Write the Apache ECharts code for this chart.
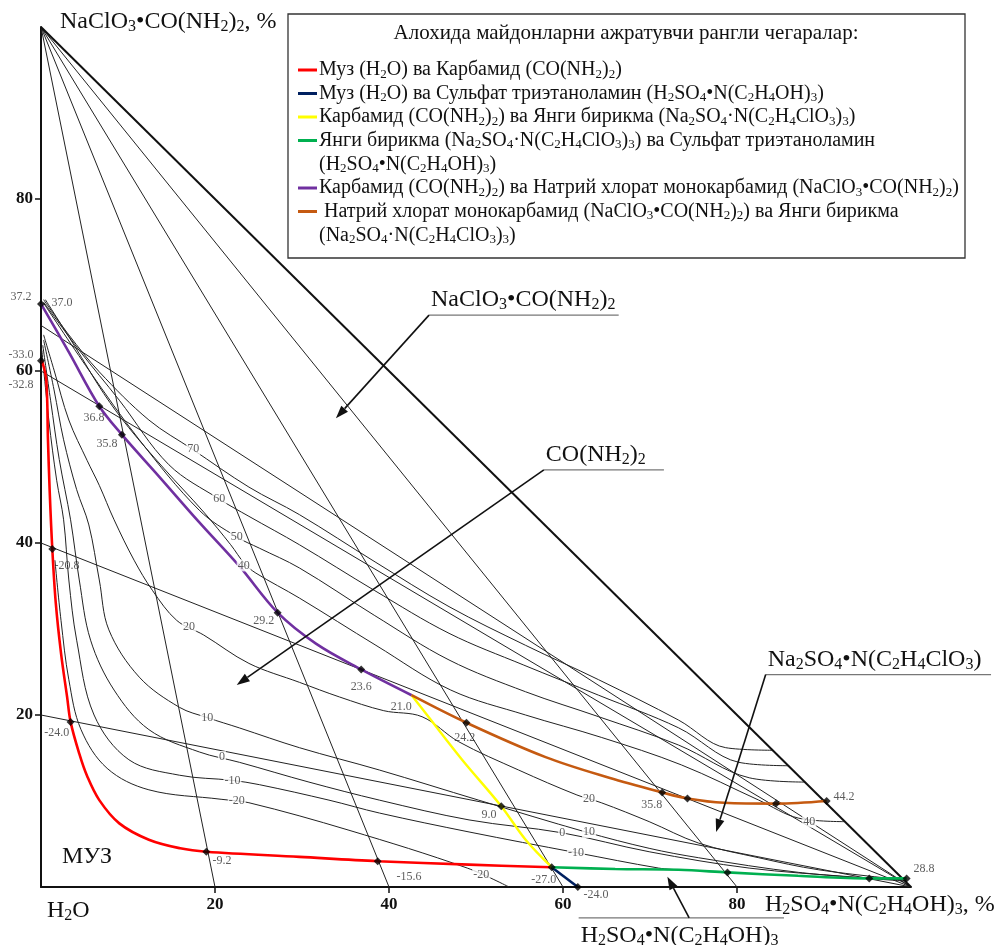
<!DOCTYPE html>
<html><head><meta charset="utf-8">
<script src="https://cdn.jsdelivr.net/npm/echarts@6/dist/echarts.min.js"></script>
<style>html,body{margin:0;padding:0;background:#fff}#c{width:998px;height:945px}</style>
</head><body><div id="c"></div>
<script>
// ---------------- DATA ----------------
const xTicks = [20, 40, 60, 80];
const yTicks = [20, 40, 60, 80];
const hypotenuse = [[0, 100], [100, 0]];
const topFanEnds = [20, 40, 60, 80];          // rays from NaClO3·CO(NH2)2 vertex to the x axis
const rightFanStarts = [20, 40, 60, 65.3];    // rays from the H2SO4·N(C2H4OH)3 vertex to the y axis

const redBoundary = [[0.1,61.2],[0.6,59.0],[0.8,52.0],[1.0,46.0],[1.3,39.3],[1.7,33.0],[2.3,27.2],[3.0,22.1],[3.4,19.2],[4.4,15.5],[5.3,12.9],[6.7,10.1],[9.0,7.4],[12.4,5.5],[16.0,4.5],[19.0,4.1],[29.7,3.5],[38.7,3.0],[49.2,2.6],[58.7,2.3]];
const navyBoundary = [[58.7,2.3],[61.7,0]];
const yellowBoundary = [[42.6,22.3],[44.6,19.7],[48.4,14.8],[52.9,9.4],[55.7,5.5],[58.7,2.3]];
const greenBoundary = [[58.7,2.3],[66.0,2.1],[73.3,2.0],[78.9,1.7],[87.0,1.3],[95.2,1.0],[99.5,1.0]];
const purpleBoundary = [[0,67.8],[3.2,62.2],[6.7,55.9],[9.3,52.6],[13.6,47.7],[18.2,42.4],[22.8,37.3],[27.2,31.9],[31.6,28.3],[36.8,25.3],[42.6,22.3]];
const orangeBoundary = [[42.6,22.3],[48.9,19.1],[58.0,15.1],[65.3,12.7],[71.4,11.0],[74.3,10.3],[78.5,9.8],[84.5,9.7],[90.3,10.0]];

const iso70 = [[0.3,68.3],[3.2,64.2],[6.7,59.9],[12.4,54.3],[17.4,50.9],[23.9,46.5],[29.7,43.3],[38.4,37.8],[46.9,32.6],[55.7,28.1],[64.1,24.1],[73.3,19.4],[78.7,16.2],[84.1,15.9]];
const iso60 = [[0.3,68.0],[4.4,62.4],[9.0,56.6],[14.7,49.1],[20.5,45.1],[23.9,43.1],[29.7,39.8],[38.3,34.5],[46.9,29.5],[55.5,25.8],[64.1,22.3],[73.3,18.5],[80.2,14.5],[85.9,14.1]];
const iso50 = [[0.3,67.9],[5.5,60.1],[11.3,52.0],[18.2,43.8],[22.5,40.7],[25.1,39.4],[29.7,37.1],[38.3,31.6],[46.9,26.4],[55.7,22.7],[64.1,19.8],[73.3,16.5],[81.4,12.7],[87.8,12.2]];
const iso40 = [[0.5,68.3],[3.8,63.0],[7.2,57.4],[10.1,53.4],[14.1,48.7],[18.7,43.6],[21.8,39.8],[23.4,37.6],[24.7,36.5],[29.7,33.6],[38.5,28.1],[47.1,22.9],[55.7,20.0],[64.4,17.4],[73.6,14.2],[82.5,10.1],[87.1,8.0],[92.3,7.6]];
const iso20 = [[0.3,64.2],[1.5,60.1],[3.2,54.3],[5.3,49.6],[6.7,46.7],[8.4,42.7],[10.7,38.0],[12.8,34.5],[15.6,31.0],[18.7,29.3],[23.9,26.0],[29.7,23.8],[34.3,22.1],[39.4,20.5],[43.8,19.8],[48.0,16.9],[54.9,13.6],[61.6,10.7],[64.4,9.8],[69.9,7.6],[75.6,5.1],[82.5,3.4],[89.4,2.0],[99.5,0.8]];
const iso10 = [[0.3,63.6],[1.5,57.8],[2.6,52.0],[4.1,46.2],[5.5,42.1],[6.7,35.7],[7.8,29.9],[11.3,24.4],[15.9,20.9],[19.1,19.7],[22.8,18.5],[29.7,16.2],[38.9,13.6],[50.3,10.1],[62.6,6.4],[69.9,4.5],[75.6,3.4],[87.1,1.7],[99.2,0.7]];
const iso0 = [[0.2,63.0],[1.1,56.6],[2.1,49.7],[3.4,42.7],[4.4,35.7],[5.7,28.7],[8.4,22.9],[12.4,18.3],[18.2,15.7],[22.8,14.5],[30.8,12.2],[38.9,10.1],[49.2,7.8],[59.9,6.3],[69.9,4.1],[81.4,2.2],[92.9,1.2],[99.3,0.8]];
const isoM10 = [[0.1,62.4],[0.9,54.3],[1.8,47.3],[2.6,42.7],[3.2,35.7],[4.1,28.7],[6.1,20.0],[10.1,14.8],[15.9,13.0],[22.0,12.4],[25.1,11.9],[33.1,10.1],[38.9,8.6],[49.2,6.4],[61.5,4.0],[71.0,2.2],[73.3,2.0]];
const isoM20 = [[1.6,38.0],[2.3,31.0],[3.2,24.1],[4.6,18.3],[7.6,13.8],[12.4,11.3],[20.7,10.2],[23.9,9.8],[35.4,6.6],[49.0,2.2],[53.8,0]];

const nodes = [[0,67.8],[0,61.2],[1.3,39.3],[3.4,19.2],[19.0,4.1],[38.7,3.0],[58.7,2.3],[61.7,0],[6.7,55.9],[9.3,52.6],[27.2,31.9],[36.8,25.3],[48.9,19.1],[52.9,9.4],[71.4,11.0],[74.3,10.3],[84.5,9.7],[90.3,10.0],[78.9,1.7],[95.2,1.0],[99.5,1.0]];
const nodeLabels = [[-2.3,68.6,'37.2'],[2.4,67.9,'37.0'],[-2.3,61.9,'-33.0'],[-2.3,58.4,'-32.8'],[6.1,54.5,'36.8'],[7.6,51.5,'35.8'],[3.0,37.4,'-20.8'],[1.8,17.9,'-24.0'],[25.6,31.0,'29.2'],[36.8,23.3,'23.6'],[41.4,20.9,'21.0'],[48.7,17.4,'24.2'],[51.5,8.4,'9.0'],[20.8,3.0,'-9.2'],[42.3,1.2,'-15.6'],[57.8,0.8,'-27.0'],[63.8,-0.9,'-24.0'],[70.2,9.5,'35.8'],[92.3,10.5,'44.2'],[101.5,2.1,'28.8']];
const isoLabels = [[17.5,50.9,'70'],[20.5,45.1,'60'],[22.5,40.7,'50'],[23.3,37.4,'40'],[88.3,7.6,'40'],[17.0,30.2,'20'],[19.1,19.7,'10'],[20.8,15.1,'0'],[22.0,12.4,'-10'],[22.5,10.0,'-20'],[63.0,10.3,'20'],[63.0,6.4,'10'],[59.9,6.3,'0'],[61.5,4.0,'-10'],[50.6,1.4,'-20']];

const annotations = [
  {text:'NaClO3•CO(NH2)2', line:[[44.6,66.5],[66.4,66.5]], arrow:[[44.6,66.5],[33.9,54.5]], side:'above'},
  {text:'CO(NH2)2', line:[[57.8,48.5],[71.6,48.5]], arrow:[[57.8,48.5],[22.5,23.5]], side:'above'},
  {text:'Na2SO4•N(C2H4ClO3)', line:[[83.3,24.7],[109.2,24.7]], arrow:[[83.3,24.7],[77.6,6.4]], side:'above'},
  {text:'H2SO4•N(C2H4OH)3', line:[[61.8,-3.6],[85.4,-3.6]], arrow:[[74.5,-3.6],[72.0,1.2]], side:'below'}
];

const legendTitle = 'Алохида майдонларни ажратувчи рангли чегаралар:';
const legendItems = [
  {color:'#ff0000', lines:['Муз (H2O) ва Карбамид (CO(NH2)2)']},
  {color:'#002060', lines:['Муз (H2O) ва Сульфат триэтаноламин (H2SO4•N(C2H4OH)3)']},
  {color:'#ffff00', lines:['Карбамид (CO(NH2)2) ва Янги бирикма (Na2SO4·N(C2H4ClO3)3)']},
  {color:'#00b050', lines:['Янги бирикма (Na2SO4·N(C2H4ClO3)3) ва Сульфат триэтаноламин','(H2SO4•N(C2H4OH)3)']},
  {color:'#7030a0', lines:['Карбамид (CO(NH2)2) ва Натрий хлорат монокарбамид (NaClO3•CO(NH2)2)']},
  {color:'#c55a11', lines:[' Натрий хлорат монокарбамид (NaClO3•CO(NH2)2) ва Янги бирикма','(Na2SO4·N(C2H4ClO3)3)']}
];

// ---------------- RENDER ----------------
const FONT = 'Liberation Serif';
const chart = echarts.init(document.getElementById('c'), null, {renderer:'canvas'});

function chem(s){ return s.replace(/([A-Za-z\)])(\d+)/g, '$1{s|$2}'); }
function line(name, data, color, width, z, smooth){
  return {type:'line', name, data, smooth: smooth ? 0.35 : false, symbol:'none', showSymbol:false,
          silent:true, z, lineStyle:{color, width}, animation:false};
}

const S = [];
topFanEnds.forEach(e => S.push(line('tf'+e, [[0,100],[e,0]], '#222', 1, 2, false)));
rightFanStarts.forEach(s => S.push(line('rf'+s, [[0,s],[100,0]], '#222', 1, 2, false)));
[iso70, iso60, iso50, iso40, iso20, iso10, iso0, isoM10, isoM20].forEach((d,i) => S.push(line('iso'+i, d, '#222', 1, 2, true)));
S.push(line('hyp', hypotenuse, '#111', 2, 3, false));
S.push(line('red', redBoundary, '#ff0000', 2.6, 4, true));
S.push(line('navy', navyBoundary, '#002060', 2.6, 4, false));
S.push(line('yellow', yellowBoundary, '#ffff00', 2.4, 4, true));
S.push(line('green', greenBoundary, '#00b050', 2.6, 4, true));
S.push(line('purple', purpleBoundary, '#7030a0', 2.6, 4, true));
S.push(line('orange', orangeBoundary, '#c55a11', 2.6, 4, true));
S.push({type:'scatter', data:nodes, symbol:'diamond', symbolSize:8, itemStyle:{color:'#000'}, z:5, silent:true, clip:false});
S.push({type:'scatter', data:nodeLabels, symbolSize:0, z:6, silent:true, clip:false,
  label:{show:true, position:'inside', formatter:p=>p.data[2], fontFamily:FONT, fontSize:12, color:'#333'}});
S.push({type:'scatter', data:isoLabels, symbolSize:0, z:6, silent:true, clip:false,
  label:{show:true, position:'inside', formatter:p=>p.data[2], fontFamily:FONT, fontSize:12, color:'#333', backgroundColor:'#fff', padding:[0,1,0,1]}});

const axisCommon = (ticks, margin) => ({
  type:'value', min:0, max:100, interval:20,
  axisLine:{show:true, onZero:false, lineStyle:{color:'#111', width:2}},
  axisTick:{show:true, customValues:ticks, length:6, lineStyle:{color:'#111', width:1.5}},
  axisLabel:{customValues:ticks, formatter:v => ticks.includes(v) ? String(v) : '', color:'#111', fontFamily:FONT, fontWeight:'bold', fontSize:17, margin},
  splitLine:{show:false}
});

chart.setOption({
  animation:false, backgroundColor:'#fff',
  grid:{left:41, right:87, top:27, bottom:58},
  xAxis: axisCommon(xTicks, 9),
  yAxis: axisCommon(yTicks, 8),
  series:S
});

// ---------------- ANNOTATIONS / TEXT ----------------
const P = (x,y) => chart.convertToPixel({gridIndex:0}, [x,y]);
function T(x, y, str, size, align){
  return {type:'text', z:100, x, y, silent:true, style:{
    text: chem(str), fontSize:size, fontFamily:FONT, fill:'#111',
    align: align||'left', textAlign: align||'left', verticalAlign:'middle', textVerticalAlign:'middle',
    lineHeight: size+2,
    rich:{ s:{fontSize:Math.round(size*0.65), fontFamily:FONT, fill:'#111', color:'#111', verticalAlign:'bottom', lineHeight:Math.round(size*0.5)} }
  }};
}
function arrow(a, b){
  const dx=b[0]-a[0], dy=b[1]-a[1], L=Math.hypot(dx,dy), ux=dx/L, uy=dy/L, hl=13, hw=4.5;
  const base=[b[0]-ux*hl, b[1]-uy*hl];
  return [
    {type:'line', z:90, silent:true, shape:{x1:a[0],y1:a[1],x2:base[0],y2:base[1]}, style:{stroke:'#111', lineWidth:1.6}},
    {type:'polygon', z:90, silent:true, shape:{points:[b,[base[0]-uy*hw, base[1]+ux*hw],[base[0]+uy*hw, base[1]-ux*hw]]}, style:{fill:'#111'}}
  ];
}
const G = [];
G.push(T(60, 22, 'NaClO3•CO(NH2)2, %', 24));
G.push(T(765, 905, 'H2SO4•N(C2H4OH)3, %', 24));
G.push(T(47, 911, 'H2O', 24));
G.push(T(62, 857, 'МУЗ', 24));
annotations.forEach(a => {
  const p1 = P(a.line[0][0], a.line[0][1]), p2 = P(a.line[1][0], a.line[1][1]);
  G.push({type:'line', z:90, silent:true, shape:{x1:p1[0],y1:p1[1],x2:p2[0],y2:p2[1]}, style:{stroke:'#777', lineWidth:1.3}});
  const ty = a.side === 'above' ? p1[1]-15 : p1[1]+18;
  G.push(T(p1[0]+2, ty, a.text, 24));
  G.push(...arrow(P(a.arrow[0][0], a.arrow[0][1]), P(a.arrow[1][0], a.arrow[1][1])));
});
// legend box
G.push({type:'rect', z:95, silent:true, shape:{x:288, y:14, width:677, height:244}, style:{fill:'#fff', stroke:'#333', lineWidth:1.3}});
G.push(Object.assign(T(626, 33, legendTitle, 21, 'center'), {z:96}));
let ry = 70;
legendItems.forEach(it => {
  G.push({type:'line', z:96, silent:true, shape:{x1:298,y1:ry,x2:317,y2:ry}, style:{stroke:it.color, lineWidth:3}});
  it.lines.forEach((ln,i) => { G.push(Object.assign(T(319, ry + i*24, ln, 20), {z:96})); });
  ry += 23.5 + (it.lines.length-1)*24;
});
chart.setOption({graphic:G});
</script>
</body></html>
